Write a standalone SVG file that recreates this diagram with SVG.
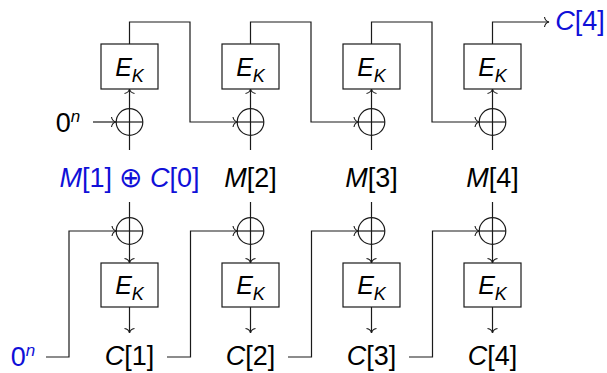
<svg xmlns="http://www.w3.org/2000/svg" width="607" height="373" viewBox="0 0 607 373">
<style>
.ln{fill:none;stroke:#1a1a1a;stroke-width:1.2}
.bx{fill:#fff;stroke:#1a1a1a;stroke-width:1.2}
.xr{fill:none;stroke:#1a1a1a;stroke-width:1.2}
.lb{font-family:"Liberation Sans",sans-serif;font-size:27px;fill:#000;text-anchor:middle}
.ek{font-family:"Liberation Sans",sans-serif;font-size:25px;font-style:italic;text-anchor:middle}
.bl{fill:#1010d8}
.op{font-family:"DejaVu Sans ExtraLight","DejaVu Sans",sans-serif;font-weight:200;font-size:28px}
</style>
<defs>
<marker id="to" markerUnits="userSpaceOnUse" markerWidth="12" markerHeight="12" refX="0" refY="0" viewBox="-6 -6 12 12" orient="auto" overflow="visible">
<path d="M-4.5,-5 C-4,-1.8 -1.3,-0.3 0,0 C-1.3,0.3 -4,1.8 -4.5,5" fill="none" stroke="#1a1a1a" stroke-width="1.1"/>
</marker>
</defs>
<g id="connectors">
<path class="ln" d="M93,122 H116" marker-end="url(#to)"/>
<path class="ln" d="M129.5,150 V89" marker-end="url(#to)"/>
<path class="ln" d="M250.5,150 V89" marker-end="url(#to)"/>
<path class="ln" d="M371.5,150 V89" marker-end="url(#to)"/>
<path class="ln" d="M492.5,150 V89" marker-end="url(#to)"/>
<path class="ln" d="M129.5,44 V22 H190 V122 H237.5" marker-end="url(#to)"/>
<path class="ln" d="M250.5,44 V22 H311 V122 H358.5" marker-end="url(#to)"/>
<path class="ln" d="M371.5,44 V22 H432 V122 H479.5" marker-end="url(#to)"/>
<path class="ln" d="M492.5,44 V22 H549" marker-end="url(#to)"/>
<path class="ln" d="M129.5,202 V263" marker-end="url(#to)"/>
<path class="ln" d="M250.5,202 V263" marker-end="url(#to)"/>
<path class="ln" d="M371.5,202 V263" marker-end="url(#to)"/>
<path class="ln" d="M492.5,202 V263" marker-end="url(#to)"/>
<path class="ln" d="M129.5,307 V333" marker-end="url(#to)"/>
<path class="ln" d="M250.5,307 V333" marker-end="url(#to)"/>
<path class="ln" d="M371.5,307 V333" marker-end="url(#to)"/>
<path class="ln" d="M492.5,307 V333" marker-end="url(#to)"/>
<path class="ln" d="M46,357 H69 V231 H116.5" marker-end="url(#to)"/>
<path class="ln" d="M167,357 H190.5 V231 H237.5" marker-end="url(#to)"/>
<path class="ln" d="M288,357 H311.5 V231 H358.5" marker-end="url(#to)"/>
<path class="ln" d="M409,357 H432.5 V231 H479.5" marker-end="url(#to)"/>
</g>
<g id="xor-top-1"><circle class="xr" cx="129.5" cy="122" r="13.3"/><path class="ln" d="M116.2,122 H142.8"/></g>
<g id="xor-top-2"><circle class="xr" cx="250.5" cy="122" r="13.3"/><path class="ln" d="M237.2,122 H263.8"/></g>
<g id="xor-top-3"><circle class="xr" cx="371.5" cy="122" r="13.3"/><path class="ln" d="M358.2,122 H384.8"/></g>
<g id="xor-top-4"><circle class="xr" cx="492.5" cy="122" r="13.3"/><path class="ln" d="M479.2,122 H505.8"/></g>
<g id="xor-bot-1"><circle class="xr" cx="129.5" cy="231" r="13.3"/><path class="ln" d="M116.2,231 H142.8"/></g>
<g id="xor-bot-2"><circle class="xr" cx="250.5" cy="231" r="13.3"/><path class="ln" d="M237.2,231 H263.8"/></g>
<g id="xor-bot-3"><circle class="xr" cx="371.5" cy="231" r="13.3"/><path class="ln" d="M358.2,231 H384.8"/></g>
<g id="xor-bot-4"><circle class="xr" cx="492.5" cy="231" r="13.3"/><path class="ln" d="M479.2,231 H505.8"/></g>
<g id="ek-top-1"><rect class="bx" x="101" y="44" width="57" height="45"/><text class="ek" x="129.5" y="76">E<tspan font-size="18" dy="6">K</tspan></text></g>
<g id="ek-top-2"><rect class="bx" x="222" y="44" width="57" height="45"/><text class="ek" x="250.5" y="76">E<tspan font-size="18" dy="6">K</tspan></text></g>
<g id="ek-top-3"><rect class="bx" x="343" y="44" width="57" height="45"/><text class="ek" x="371.5" y="76">E<tspan font-size="18" dy="6">K</tspan></text></g>
<g id="ek-top-4"><rect class="bx" x="464" y="44" width="57" height="45"/><text class="ek" x="492.5" y="76">E<tspan font-size="18" dy="6">K</tspan></text></g>
<g id="ek-bot-1"><rect class="bx" x="101" y="263" width="57" height="44"/><text class="ek" x="129.5" y="294">E<tspan font-size="18" dy="6">K</tspan></text></g>
<g id="ek-bot-2"><rect class="bx" x="222" y="263" width="57" height="44"/><text class="ek" x="250.5" y="294">E<tspan font-size="18" dy="6">K</tspan></text></g>
<g id="ek-bot-3"><rect class="bx" x="343" y="263" width="57" height="44"/><text class="ek" x="371.5" y="294">E<tspan font-size="18" dy="6">K</tspan></text></g>
<g id="ek-bot-4"><rect class="bx" x="464" y="263" width="57" height="44"/><text class="ek" x="492.5" y="294">E<tspan font-size="18" dy="6">K</tspan></text></g>
<g id="labels">
<text class="lb" x="68" y="132" font-size="25">0<tspan font-size="17" font-style="italic" dy="-10">n</tspan></text>
<text class="lb bl" x="129.5" y="187"><tspan font-style="italic">M</tspan>[1] <tspan class="op">⊕</tspan> <tspan font-style="italic">C</tspan>[0]</text>
<text class="lb" x="250.5" y="187"><tspan font-style="italic">M</tspan>[2]</text>
<text class="lb" x="371.5" y="187"><tspan font-style="italic">M</tspan>[3]</text>
<text class="lb" x="492.5" y="187"><tspan font-style="italic">M</tspan>[4]</text>
<text class="lb bl" x="580" y="30" font-size="25"><tspan font-style="italic">C</tspan>[4]</text>
<text class="lb bl" x="23" y="366" font-size="25">0<tspan font-size="17" font-style="italic" dy="-10">n</tspan></text>
<text class="lb" x="129.5" y="365"><tspan font-style="italic">C</tspan>[1]</text>
<text class="lb" x="250.5" y="365"><tspan font-style="italic">C</tspan>[2]</text>
<text class="lb" x="371.5" y="365"><tspan font-style="italic">C</tspan>[3]</text>
<text class="lb" x="492.5" y="365"><tspan font-style="italic">C</tspan>[4]</text>
</g>
</svg>
